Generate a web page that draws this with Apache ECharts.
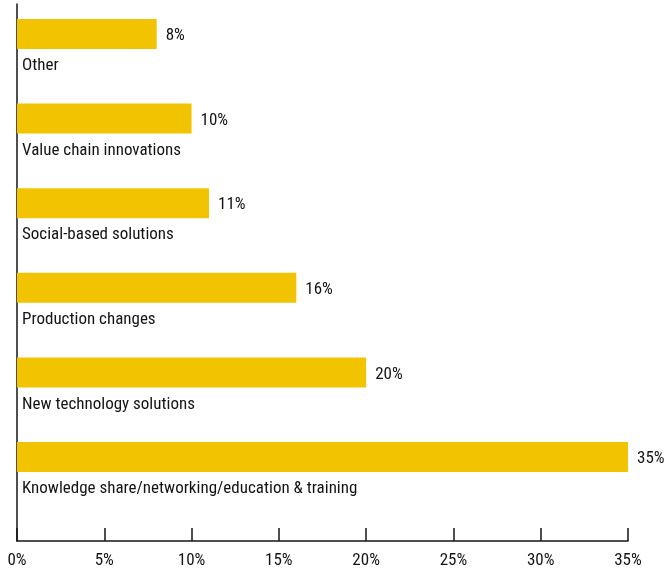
<!DOCTYPE html>
<html>
<head>
<meta charset="utf-8">
<script src="https://cdn.jsdelivr.net/npm/echarts@6/dist/echarts.min.js"></script>
<style>
  html, body { margin: 0; padding: 0; background: #fff; }
  #chart { width: 666px; height: 572px; }
</style>
</head>
<body>
<div id="chart"></div>
<script>
// Share of responses by type of solution (%)
const categories = [
  'Other',
  'Value chain innovations',
  'Social-based solutions',
  'Production changes',
  'New technology solutions',
  'Knowledge share/networking/education & training'
];
const shares = [8, 10, 11, 16, 20, 35];
const tickValues = [0, 5, 10, 15, 20, 25, 30, 35];

const FONT = '"Roboto Condensed", "DejaVu Sans Condensed", sans-serif';
const INK = '#141414';
const GOLD = '#F2C300';

const chart = echarts.init(document.getElementById('chart'), null, { renderer: 'canvas' });

chart.setOption({
  animation: false,
  grid: [
    // bars and their labels
    { left: 17, width: 611, top: -8.3, height: 507.6, containLabel: false, outerBoundsMode: 'none' },
    // frame: left rule and the percentage axis
    { left: 17, width: 611, top: 4, height: 537, containLabel: false, outerBoundsMode: 'none' }
  ],
  xAxis: [
    {
      gridIndex: 0, type: 'value', min: 0, max: 35,
      show: false
    },
    {
      gridIndex: 1, type: 'value', min: tickValues[0], max: tickValues[tickValues.length - 1], interval: 5,
      axisLine: { show: true, lineStyle: { color: INK, width: 1.5 } },
      axisTick: { show: true, inside: true, length: 13, lineStyle: { color: INK, width: 1.5 } },
      splitLine: { show: false },
      axisLabel: {
        formatter: '{value}%', color: INK, fontFamily: FONT, fontSize: 17, margin: 11
      }
    }
  ],
  yAxis: [
    {
      gridIndex: 0, type: 'category', data: categories, inverse: true,
      show: false
    },
    {
      gridIndex: 1, type: 'value', min: 0, max: 1,
      axisLine: { show: true, lineStyle: { color: INK, width: 1.5 } },
      axisTick: { show: false },
      axisLabel: { show: false },
      splitLine: { show: false }
    }
  ],
  series: [
    {
      type: 'bar',
      xAxisIndex: 0, yAxisIndex: 0,
      data: shares,
      barWidth: 30,
      itemStyle: { color: GOLD },
      label: {
        show: true, position: 'right', distance: 9, offset: [0, 2],
        formatter: '{c}%', color: INK, fontFamily: FONT, fontSize: 17
      },
      silent: true
    },
    {
      // category names set just under each bar
      type: 'bar',
      xAxisIndex: 0, yAxisIndex: 0,
      data: shares,
      barWidth: 30,
      barGap: '-100%',
      itemStyle: { color: 'rgba(0,0,0,0)' },
      label: {
        show: true, position: [5, 47], verticalAlign: 'middle', align: 'left',
        formatter: '{b}', color: INK, fontFamily: FONT, fontSize: 17
      },
      silent: true
    }
  ]
});
</script>
</body>
</html>
